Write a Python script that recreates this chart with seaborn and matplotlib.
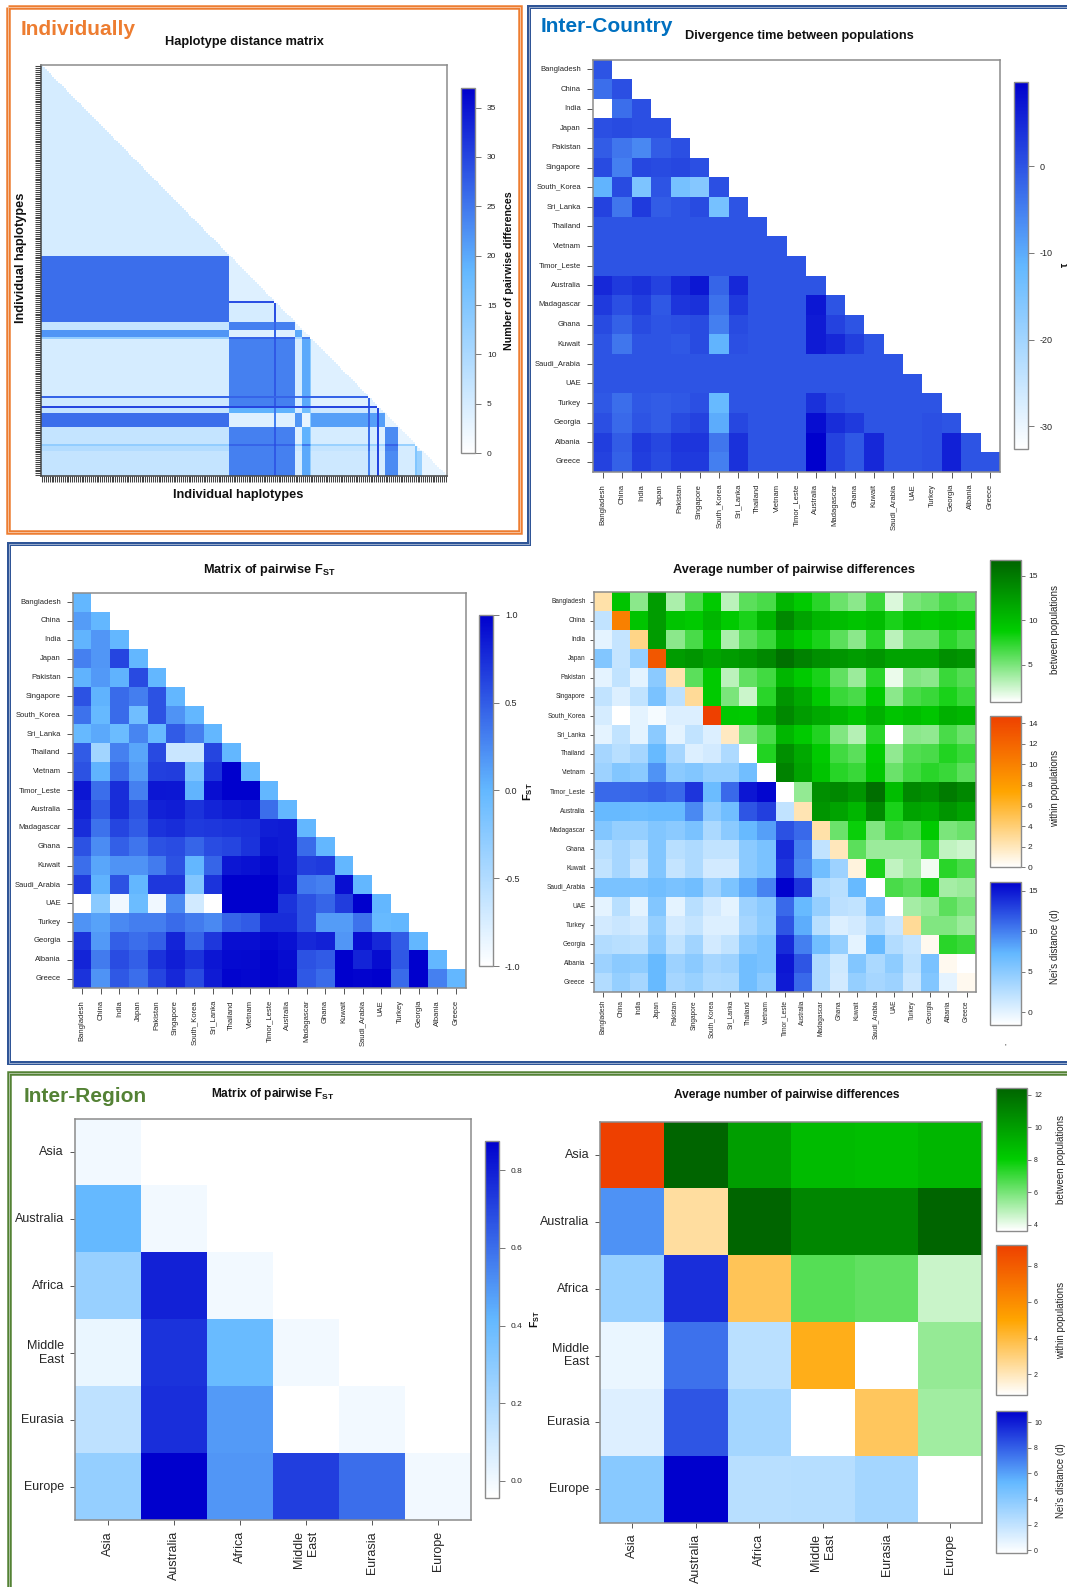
import numpy as np
import matplotlib
matplotlib.use('Agg')
import matplotlib.pyplot as plt
from matplotlib.cm import ScalarMappable
from matplotlib.colors import LinearSegmentedColormap, Normalize
import seaborn as sns

W, H = 1067, 1587
sns.set_theme(style='white')
plt.rcParams['font.family'] = ['Liberation Sans', 'DejaVu Sans']
plt.rcParams['mathtext.fontset'] = 'custom'
plt.rcParams['mathtext.rm'] = 'Liberation Sans'
plt.rcParams['mathtext.bf'] = 'Liberation Sans:bold'

countries = ['Bangladesh', 'China', 'India', 'Japan', 'Pakistan', 'Singapore', 'South_Korea', 'Sri_Lanka',
             'Thailand', 'Vietnam', 'Timor_Leste', 'Australia', 'Madagascar', 'Ghana', 'Kuwait', 'Saudi_Arabia',
             'UAE', 'Turkey', 'Georgia', 'Albania', 'Greece']
regions = ['Asia', 'Australia', 'Africa', 'Middle\nEast', 'Eurasia', 'Europe']

# haplotype blocks: how many haplotypes in each block, then block-by-block distances
hap_sizes = [100, 24, 1, 10, 4, 4, 1, 30, 1, 4, 1, 3, 7, 9, 1, 3, 13]
hap_blocks = [
    [5],
    [26, 4],
    [26, 29, 0],
    [26, 5, 29, 4],
    [7, 24, 27, 24, 3],
    [22, 4, 27, 4, 20, 3],
    [13, 27, 29, 27, 10, 24, 0],
    [5, 24, 28, 24, 5, 20, 14, 4],
    [27, 27, 27, 27, 26, 27, 27, 27, 0],
    [6, 24, 28, 24, 5, 20, 14, 4, 27, 4],
    [30, 30, 30, 30, 30, 30, 30, 30, 30, 30, 0],
    [7, 19, 25, 19, 5, 17, 13, 6, 27, 6, 30, 4],
    [26, 4, 24, 4, 22, 3, 14, 21, 27, 21, 30, 21, 3],
    [7, 24, 28, 24, 4, 19, 13, 5, 26, 5, 30, 4, 23, 3],
    [13, 27, 29, 27, 13, 25, 20, 12, 27, 12, 30, 11, 27, 12, 0],
    [9, 24, 28, 24, 6, 20, 14, 7, 26, 7, 30, 6, 24, 5, 15, 3],
    [7, 24, 28, 24, 5, 20, 13, 6, 24, 6, 30, 5, 23, 5, 15, 12, 3],
]

tau_rows = [
    [0],
    [-3, 0.5],
    [-32.6, -3, 0.5],
    [0.5, 1, 0.5, 0.5],
    [-1, -4, -6, -1, 0.5],
    [1, -5, 1.5, 1, 1.5, 0.5],
    [-11, 1, -15, 0, -14, -16, 0.5],
    [2, -4, 3, -1, 0, 1, -14, 0],
    [0, 0, 0, 0, 0, 0, 0, 0, 0],
    [0, 0, 0, 0, 0, 0, 0, 0, 0, 0],
    [0, 0, 0, 0, 0, 0, 0, 0, 0, 0, 0],
    [5, 3, 4, 2, 5, 7, -2, 5, 0, 0, 0, 0],
    [3, 0.5, 2.5, -0.5, 3.5, 4, -3.5, 3, 0, 0, 0, 7, 0],
    [1, -1.5, 1, 0, 0.5, 1, -5, 1, 0, 0, 0, 6.5, 2, 0],
    [0, -4, 0, 0, -0.5, 1, -11, 0.5, 0, 0, 0, 6.5, 5, 2.5, 0],
    [0] * 16,
    [0] * 17,
    [-0.5, -3, -0.5, -1, -0.5, 0.5, -12, 0, 0, 0, 0, 4, 1, 0, 0, 0, 0, 0],
    [0.5, -2.5, 0, -1, 1, 2, -10, 1.5, 0, 0, 0, 8, 4.5, 3, 0, 0, 0, 0.5, 0],
    [2.5, -1, 3, 1.5, 3.5, 3.5, -4, 4, 0, 0, 0, 9.6, 2, -0.5, 5, 0, 0, 0.5, 6, 0],
    [2, -1.5, 2.5, 1, 3, 3, -5, 4, 0, 0, 0, 9.6, 2, -0.5, 5, 0, 0, 0.5, 6, 0, 0],
]

fst_rows = [
    [0],
    [0.15, 0],
    [0.02, 0.18, 0],
    [0.3, 0.18, 0.62, 0],
    [0.03, 0.17, 0.03, 0.6, 0],
    [0.55, 0.03, 0.42, 0.32, 0.55, 0],
    [0.38, -0.02, 0.42, -0.08, 0.55, 0.2, 0],
    [-0.02, 0.08, -0.05, 0.28, -0.03, 0.5, 0.32, 0],
    [0.5, -0.4, 0.3, 0.1, 0.6, -0.65, -0.65, 0.62, 0],
    [0.55, 0.03, 0.42, 0.15, 0.65, 0.67, -0.15, 0.72, 1, 0],
    [0.88, 0.4, 0.75, 0.3, 0.88, 0.87, 0.02, 0.92, 1, 1, 0],
    [0.82, 0.5, 0.75, 0.55, 0.82, 0.84, 0.72, 0.8, 0.85, 0.87, 0.4, 0],
    [0.75, 0.38, 0.62, 0.5, 0.72, 0.75, 0.68, 0.7, 0.72, 0.74, 0.83, 0.85, 0],
    [0.55, 0.24, 0.48, 0.36, 0.55, 0.58, 0.45, 0.58, 0.62, 0.72, 0.87, 0.85, 0.42, 0],
    [0.4, 0.1, 0.2, 0.2, 0.33, 0.55, 0.0, 0.45, 0.88, 0.9, 0.95, 0.85, 0.65, 0.68, 0],
    [0.68, 0.03, 0.55, 0, 0.7, 0.7, -0.2, 0.72, 1, 1, 1, 0.88, 0.35, 0.3, 0.92, 0],
    [-1, -0.25, -0.9, -0.05, -0.9, 0.25, -0.7, -1, 1, 1, 1, 0.72, 0.55, 0.45, 0.67, 1, 0],
    [0.2, 0.12, 0.25, 0.32, 0.32, 0.42, 0.33, 0.25, 0.45, 0.5, 0.75, 0.75, 0.55, 0.15, 0.15, 0.38, -0.03, 0],
    [0.72, 0.17, 0.48, 0.4, 0.48, 0.8, 0.45, 0.7, 0.92, 0.92, 0.95, 0.9, 0.78, 0.82, 0.18, 0.92, 0.78, 0.5, 0],
    [0.8, 0.33, 0.58, 0.48, 0.72, 0.83, 0.72, 0.88, 0.94, 0.95, 0.98, 0.93, 0.55, 0.5, 1, 0.8, 0.93, 0.52, 1, 0],
    [0.72, 0.2, 0.52, 0.4, 0.62, 0.78, 0.6, 0.85, 0.97, 0.96, 0.98, 0.95, 0.52, 0.42, 1, 0.98, 1, 0.42, 1, 0.3, 0],
]

# country pairwise differences: above diagonal, below diagonal, diagonal
between_rows = [
    [9.5, 4.5, 12.5, 3.5, 6.5, 9, 3, 6, 6.5, 10.5, 9, 7.5, 5.5, 4.5, 7, 2, 5, 5.5, 6.5, 6],
    [9.5, 12.5, 9.5, 9, 10.5, 9, 8, 10.5, 14, 12, 10.5, 10, 9.5, 10, 8, 9.5, 9, 9.5, 9],
    [12.5, 4.5, 6.5, 9, 3.5, 6, 7, 10.5, 9, 8, 6, 4.5, 7.5, 3, 5.5, 5.5, 7.5, 6.5],
    [12.5, 13, 12, 12.5, 13, 14, 15.8, 14.5, 13.5, 13, 12.5, 13, 12, 12, 12, 13.5, 13],
    [6, 9, 3, 5.8, 6.8, 10.5, 9, 8, 5.8, 4, 7.5, 1.5, 4.8, 4.5, 7, 6.2],
    [9, 5, 2.5, 7.5, 13, 11.5, 9, 7, 6.5, 9, 4.5, 6.5, 7, 8, 7],
    [9.2, 9, 11.5, 14, 12.5, 11.5, 10.5, 9.5, 11, 9.5, 10, 9.3, 11, 10.5],
    [4.8, 6.5, 10.5, 9, 7.8, 4.8, 3.2, 7.5, 0.9, 4.5, 4.3, 6.5, 5.5],
    [7.8, 13.5, 11.5, 9, 6.8, 6, 8.8, 4.3, 6.3, 6.5, 7.8, 7],
    [14.5, 12, 9.5, 7.6, 7, 9.2, 5.5, 6.8, 7.5, 7, 6],
    [4.2, 13.5, 14, 13, 16, 10, 14, 13.5, 15, 14],
    [13, 12, 10.5, 14, 8, 12, 11.5, 13, 12],
    [5.5, 8.5, 4.8, 7, 6.5, 9, 5, 5.5],
    [6, 4, 4, 4, 6.8, 2.8, 2.4],
    [8, 2.8, 3.8, 1.3, 7.5, 6.5],
    [6.5, 6, 8, 3.7, 4],
    [3.7, 4.2, 6, 5],
    [4.8, 4.8, 4],
    [7.5, 7],
    [0.9],
]
nei_rows = [
    [2],
    [0, 1.8],
    [5.5, 1.8, 4.5],
    [0, 2, 0, 5],
    [2, 0.5, 2, 6, 2.2],
    [0.8, -1.56, 0, -1, 0.5, 0.5],
    [0, 2, 0, 5, 0, 2, 0.5],
    [3.5, 2.5, 3.5, 7, 3.5, 0.5, 1, 3],
    [4, 5.5, 5, 9, 5, 5.5, 4.5, 4.5, 6.5],
    [11, 11, 11.2, 11.5, 11, 13.5, 6.8, 11, 15, 15.8],
    [7, 7, 6.8, 7, 7, 9.5, 5, 6.5, 12, 13, 2],
    [5.5, 4.5, 4.5, 5.5, 5, 6, 3.2, 5, 7, 8.5, 12.2, 11],
    [2.5, 3.5, 2.5, 5.5, 2.5, 3, 2, 2, 5, 6, 14, 10, 2],
    [2, 3.5, 1.5, 5.5, 1.8, 3, 1, 1, 5, 6, 13.5, 9.5, 6.5, 4],
    [6, 6, 6, 6.5, 6, 6.5, 4, 5.8, 8, 9.8, 16, 13.5, 3.2, 2.5, 7],
    [0, 2.5, 0, 5.5, 0, 2.5, 1, 0, 4, 5, 11, 7, 4.5, 2.3, 2, 6],
    [1, 1.5, 1, 4.5, 1, 1.8, 0.5, 0.5, 3.5, 4.8, 12, 7.8, 2.5, 0.5, 1, 3, 1.5],
    [2.8, 2.5, 2.2, 5, 2, 3.8, 1, 2, 5, 6, 14, 10, 6.5, 4.5, 0, 7, 2.8, 1.8],
    [4, 5, 4.8, 7, 4, 5, 3.5, 4, 6.5, 6, 15, 12, 3, 1.2, 5.5, 3.2, 4.8, 2.2, 6],
    [2.8, 4.5, 3.5, 7, 3.5, 4.2, 3, 3.2, 6.5, 5, 14.8, 11, 3, 1, 4.5, 3.5, 4, 1.5, 5.5, 0],
]
within_diag = [2.5, 10, 3.5, 13, 2.3, 3, 14.7, 1.8, 0, 0, 0, 2.2, 2.5, 2, 1, 0, 0, 3, 0.5, 0.5, 0.5]

region_fst_rows = [
    [0],
    [0.41, 0],
    [0.26, 0.79, 0],
    [0.02, 0.75, 0.4, 0],
    [0.15, 0.76, 0.49, -0.043, 0],
    [0.27, 0.876, 0.5, 0.72, 0.6, 0],
]
region_between_rows = [
    [12.4, 10, 8.8, 8.7, 9],
    [12.4, 11, 11, 12.4],
    [6.6, 6.4, 4.6],
    [3.66, 5.5],
    [5.3],
]
region_nei_rows = [
    [6.5],
    [3.5, 9.5],
    [0.5, 7.5, 2.2],
    [1, 8.3, 3, -0.24],
    [4, 10.9, 2.3, 2.4, 3],
]
region_within_diag = [9.16, 2.4, 3.6, 4.6, 3.5, 0.84]

blue_map = LinearSegmentedColormap.from_list('blues3', ['#FFFFFF', '#63B8FF', '#0000CD'])
green_map = LinearSegmentedColormap.from_list('greens3', ['#FFFFFF', '#00CD00', '#006400'])
orange_map = LinearSegmentedColormap.from_list('oranges3', ['#FFFFFF', '#FFA500', '#EE4000'])
EDGE = '#8c8c8c'
TXT = '#262626'


def px_axes(fig, left, right, top, bottom):
    return fig.add_axes([left / W, 1 - bottom / H, (right - left) / W, (bottom - top) / H])


def lower(rows, n, offset=0):
    m = np.full((n, n), np.nan)
    for i, row in enumerate(rows):
        m[i + offset, :len(row)] = row
    return m


def upper(rows, n):
    m = np.full((n, n), np.nan)
    for i, row in enumerate(rows):
        m[i, i + 1:i + 1 + len(row)] = row
    return m


def layer(ax, m, cmap, vmin, vmax):
    sns.heatmap(m, ax=ax, cmap=cmap, vmin=vmin, vmax=vmax, cbar=False, mask=np.isnan(m),
                xticklabels=False, yticklabels=False, linewidths=0)


def dress(ax, labels, size, tick=6, pad=6):
    pos = np.arange(len(labels)) + 0.5
    ax.set_xticks(pos)
    ax.set_yticks(pos)
    ax.set_xticklabels(labels, rotation=90, fontsize=size, color=TXT, ha='center', va='top', multialignment='right')
    ax.set_yticklabels(labels, rotation=0, fontsize=size, color=TXT, ha='right', va='center', multialignment='right')
    ax.tick_params(axis='both', length=tick * 0.72, width=0.7, color='#555555', pad=pad * 0.72,
                   bottom=True, left=True)
    for s in ax.spines.values():
        s.set_visible(True)
        s.set_color(EDGE)
        s.set_linewidth(1.1)


def colorbar(fig, box, cmap, vmin, vmax, ticks, size=6, tick=6, pad=6):
    cax = px_axes(fig, *box)
    sm = ScalarMappable(norm=Normalize(vmin, vmax), cmap=cmap)
    cb = fig.colorbar(sm, cax=cax, ticks=ticks)
    cb.ax.set_yticklabels([('%g' % t if not isinstance(t, float) else '%.1f' % t) for t in ticks])
    cb.ax.tick_params(length=tick * 0.72, width=0.7, color='#777777', labelsize=size, labelcolor=TXT, pad=pad * 0.72)
    cb.outline.set_edgecolor(EDGE)
    cb.outline.set_linewidth(1.0)
    return cb


def main():
    fig = plt.figure(figsize=(W / 100, H / 100), dpi=100, facecolor='white')
    bg = fig.add_axes([0, 0, 1, 1], zorder=5)
    bg.set_xlim(0, W)
    bg.set_ylim(H, 0)
    bg.axis('off')
    bg.patch.set_alpha(0)

    # frames round the three groups
    frames = [
        ('#ED7D31', [7.5, 520, 520, 7.5, 7.5], [6.5, 6.5, 532, 532, 6.5], 4.5),
        ('#2F5597', [1075, 529, 529, 9, 9, 1075], [6.5, 6.5, 543.5, 543.5, 1062.5, 1062.5], 4),
        ('#548235', [1075, 9, 9], [1073, 1073, 1600], 4.5),
    ]
    for color, xs, ys, px in frames:
        bg.plot(xs, ys, color=color, lw=px * 0.72, solid_joinstyle='miter', solid_capstyle='butt')
        bg.plot(xs, ys, color='white', lw=0.45, alpha=0.8, solid_joinstyle='miter', solid_capstyle='butt')

    head = dict(ha='center', va='center', fontweight='bold', color='#111111', fontsize=9.2)
    bg.text(21, 29.5, 'Individually', color='#ED7D31', fontsize=15, fontweight='bold', ha='left', va='center')
    bg.text(541, 26, 'Inter-Country', color='#0070C0', fontsize=15, fontweight='bold', ha='left', va='center')
    bg.text(24, 1097, 'Inter-Region', color='#548235', fontsize=15, fontweight='bold', ha='left', va='center')

    # individual haplotypes
    groups = np.repeat(np.arange(len(hap_sizes)), hap_sizes)
    hap = lower(hap_blocks, len(hap_sizes))[groups][:, groups]
    hap[np.triu_indices_from(hap, k=1)] = np.nan
    ax = px_axes(fig, 41.2, 446.6, 65.4, 476.2)
    layer(ax, hap, blue_map, 0, 37)
    ax.set_xticks(np.arange(hap.shape[0]) + 0.5)
    ax.set_yticks(np.arange(hap.shape[0]) + 0.5)
    ax.set_xticklabels([])
    ax.set_yticklabels([])
    ax.tick_params(axis='both', length=6 * 0.72, width=0.75, color='#444444', bottom=True, left=True)
    for s in ax.spines.values():
        s.set_visible(True)
        s.set_color(EDGE)
        s.set_linewidth(1.1)
    ax.spines['left'].set_color('#444444')
    ax.spines['bottom'].set_color('#444444')
    colorbar(fig, (460.8, 475, 87.8, 453.2), blue_map, 0, 37, [0, 5, 10, 15, 20, 25, 30, 35])
    bg.text(244, 42.5, 'Haplotype distance matrix', **head)
    bg.text(238, 495, 'Individual haplotypes', **head)
    bg.text(21, 258, 'Individual haplotypes', rotation=90, **head)
    bg.text(509.5, 271, 'Number of pairwise differences', rotation=90, ha='center', va='center',
            fontweight='bold', color='#111111', fontsize=7.7)

    # divergence time
    ax = px_axes(fig, 593, 1000, 59.6, 471.8)
    layer(ax, lower(tau_rows, 21), blue_map, -32.6, 9.65)
    dress(ax, countries, 5.5)
    colorbar(fig, (1013.8, 1028, 82.3, 449), blue_map, -32.6, 9.65, [-30, -20, -10, 0], size=6.5)
    bg.text(799, 36, 'Divergence time between populations', **head)
    bg.text(1065, 265, 'τ', rotation=90, ha='center', va='center', fontsize=7, fontweight='bold', color='#111111')

    # FST between countries
    ax = px_axes(fig, 72.7, 465.5, 592.7, 988)
    layer(ax, lower(fst_rows, 21), blue_map, -1, 1)
    dress(ax, countries, 5.5)
    colorbar(fig, (478.7, 492.9, 614.6, 966.2), blue_map, -1, 1, [-1.0, -0.5, 0.0, 0.5, 1.0], size=6.5)
    bg.text(269, 569.5, r'Matrix of pairwise F$_{\mathbf{ST}}$', **head)
    bg.text(528, 792, r'F$_{\mathbf{ST}}$', rotation=90, ha='center', va='center', fontweight='bold',
            color='#111111', fontsize=8)

    # pairwise differences between countries
    ax = px_axes(fig, 593.6, 975.6, 592, 992)
    layer(ax, upper(between_rows, 21), green_map, 0.84, 16.76)
    layer(ax, lower(nei_rows, 21, offset=1), blue_map, -1.56, 16.1)
    layer(ax, np.diag(within_diag) + np.where(np.eye(21) == 0, np.nan, 0), orange_map, 0, 14.7)
    dress(ax, countries, 4.7, tick=4.5, pad=3.5)
    colorbar(fig, (990, 1021, 560, 701.7), green_map, 0.84, 16.76, [5, 10, 15], tick=4, pad=3)
    colorbar(fig, (990, 1021, 716, 867.3), orange_map, 0, 14.7, [0, 2, 4, 6, 8, 10, 12, 14], tick=4, pad=3)
    colorbar(fig, (990, 1021, 881.7, 1025), blue_map, -1.56, 16.1, [0, 5, 10, 15], tick=4, pad=3)
    bg.text(794, 570, 'Average number of pairwise differences', **head)
    for y, label in [(629, 'between populations'), (788, 'within populations'), (947, "Nei's distance (d)")]:
        bg.text(1055, y, label, rotation=90, ha='center', va='center', color=TXT, fontsize=7)
    bg.text(1005, 1047, "'", ha='center', va='center', color=TXT, fontsize=6)

    # FST between regions
    ax = px_axes(fig, 75, 471.3, 1118.5, 1520)
    layer(ax, lower(region_fst_rows, 6), blue_map, -0.043, 0.876)
    dress(ax, regions, 9, tick=5, pad=6)
    colorbar(fig, (484.8, 498.6, 1140.8, 1497.6), blue_map, -0.043, 0.876, [0.0, 0.2, 0.4, 0.6, 0.8], size=6)
    bg.text(273, 1094, r'Matrix of pairwise F$_{\mathbf{ST}}$', **dict(head, fontsize=8.6))

    # pairwise differences between regions
    ax = px_axes(fig, 600.4, 982, 1121.6, 1522.6)
    layer(ax, upper(region_between_rows, 6), green_map, 3.66, 12.44)
    layer(ax, lower(region_nei_rows, 6, offset=1), blue_map, -0.24, 10.9)
    layer(ax, np.diag(region_within_diag) + np.where(np.eye(6) == 0, np.nan, 0), orange_map, 0.84, 9.16)
    dress(ax, regions, 9, tick=5, pad=6)
    colorbar(fig, (995.8, 1027, 1087.7, 1230.5), green_map, 3.66, 12.44, [4, 6, 8, 10, 12], size=5, tick=4, pad=3)
    colorbar(fig, (995.8, 1027, 1245, 1395), orange_map, 0.84, 9.16, [2, 4, 6, 8], size=5, tick=4, pad=3)
    colorbar(fig, (995.8, 1027, 1410.6, 1553.4), blue_map, -0.24, 10.9, [0, 2, 4, 6, 8, 10], size=5, tick=4, pad=3)
    bg.text(787, 1095, 'Average number of pairwise differences', **dict(head, fontsize=8.6))
    bg.text(535, 1319, r'F$_{\mathbf{ST}}$', rotation=90, ha='center', va='center', fontweight='bold',
            color='#111111', fontsize=7.5)
    for y, label in [(1159, 'between populations'), (1320.5, 'within populations'), (1481, "Nei's distance (d)")]:
        bg.text(1060.8, y, label, rotation=90, ha='center', va='center', color=TXT, fontsize=7)

    fig.savefig('out.png', dpi=100)


if __name__ == '__main__':
    main()
